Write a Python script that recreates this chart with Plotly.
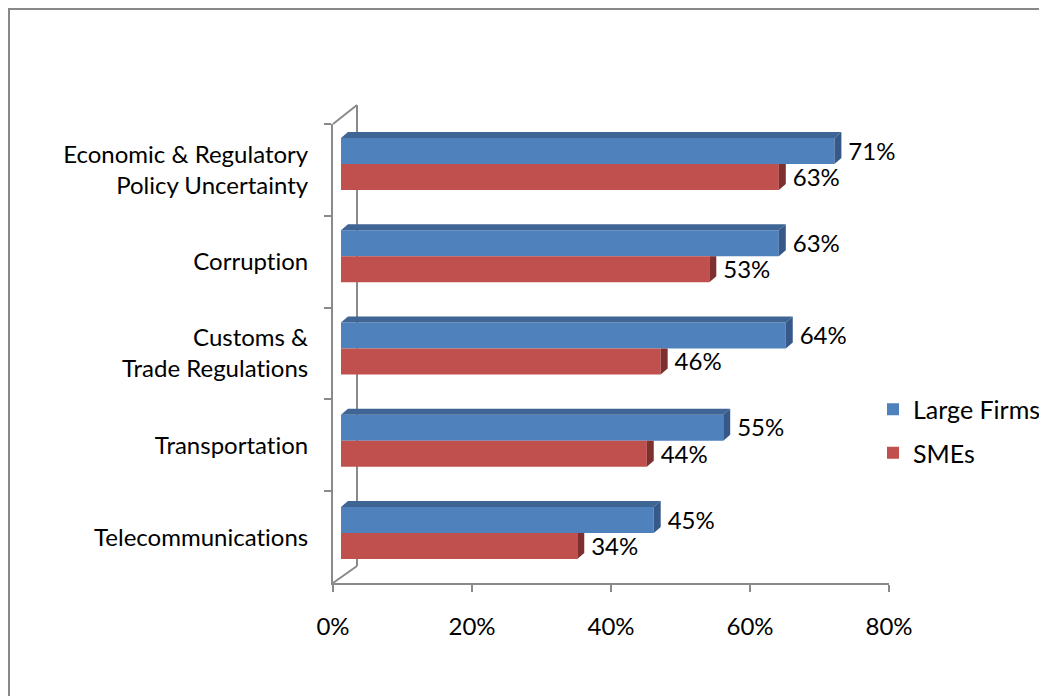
import plotly.graph_objects as go

categories = ["Economic & Regulatory<br>Policy Uncertainty", "Corruption",
              "Customs &<br>Trade Regulations", "Transportation", "Telecommunications"]
large_firms = [71, 63, 64, 55, 45]
smes = [63, 53, 46, 44, 34]
x_ticks = [0, 20, 40, 60, 80]
series_names = ["Large Firms", "SMEs"]

W, H = 1047, 696
OFF = 8  # page body margin
FONT = "Lato"
FS = 24
BLUE, BLUE_TOP, BLUE_SIDE = "#4F81BD", "#3E6594", "#36598A"
RED, RED_SIDE = "#C0504D", "#7E302E"
AX = "#8A8A8A"

def fx(px):
    return (px - OFF) / W

def fy(py):
    return 1 - (py - OFF) / H

BAR_H = 0.282   # bar thickness in category units
DX = 1.0        # 3D depth in % units
DY = 0.065      # 3D depth in category units

idx = list(range(len(categories)))
blue_y = [i - BAR_H / 2 for i in idx]
red_y = [i + BAR_H / 2 for i in idx]

fig = go.Figure()

# front faces
fig.add_trace(go.Bar(orientation="h", x=large_firms, y=blue_y, width=BAR_H,
                     name=series_names[0], marker=dict(color=BLUE, line=dict(width=0)),
                     legendgroup="a", hoverinfo="skip"))
fig.add_trace(go.Bar(orientation="h", x=smes, y=red_y, width=BAR_H,
                     name=series_names[1], marker=dict(color=RED, line=dict(width=0)),
                     legendgroup="b", hoverinfo="skip"))

# 3D faces
def poly(points_list):
    xs, ys = [], []
    for pts in points_list:
        for (a, b) in pts:
            xs.append(a)
            ys.append(b)
        xs.append(pts[0][0]); ys.append(pts[0][1])
        xs.append(None); ys.append(None)
    return xs, ys

top_blue = [[(0, i - BAR_H), (v, i - BAR_H), (v + DX, i - BAR_H - DY), (DX, i - BAR_H - DY)]
            for i, v in zip(idx, large_firms)]
side_blue = [[(v, i - BAR_H), (v + DX, i - BAR_H - DY), (v + DX, i - DY), (v, i)]
             for i, v in zip(idx, large_firms)]
side_red = [[(v, i), (v + DX, i), (v + DX, i + BAR_H - DY), (v, i + BAR_H)]
            for i, v in zip(idx, smes)]

for pts, col in [(top_blue, BLUE_TOP), (side_blue, BLUE_SIDE), (side_red, RED_SIDE)]:
    xs, ys = poly(pts)
    fig.add_trace(go.Scatter(x=xs, y=ys, mode="lines", fill="toself", fillcolor=col,
                             line=dict(width=0, color=col), showlegend=False, hoverinfo="skip"))

# data labels
fig.add_trace(go.Scatter(x=[v + DX + 1.0 for v in large_firms], y=[y + 0.03 for y in blue_y],
                         mode="text", text=[f"{v}%" for v in large_firms],
                         textposition="middle right", textfont=dict(family=FONT, size=FS, color="#000"),
                         showlegend=False, hoverinfo="skip"))
fig.add_trace(go.Scatter(x=[v + DX + 1.0 for v in smes], y=[y + 0.03 for y in red_y],
                         mode="text", text=[f"{v}%" for v in smes],
                         textposition="middle right", textfont=dict(family=FONT, size=FS, color="#000"),
                         showlegend=False, hoverinfo="skip"))

# dummy trace for the visible axes subplot
fig.add_trace(go.Scatter(x=[0] * len(categories), y=categories, xaxis="x2", yaxis="y2",
                         mode="markers", marker=dict(opacity=0), showlegend=False, hoverinfo="skip"))

fig.update_layout(
    width=W, height=H,
    margin=dict(l=0, r=0, t=0, b=0, autoexpand=False),
    paper_bgcolor="white", plot_bgcolor="rgba(0,0,0,0)",
    barmode="overlay",
    font=dict(family=FONT, size=FS, color="#000"),
    xaxis=dict(domain=[fx(341), fx(897)], range=[0, 80], visible=False, fixedrange=True),
    yaxis=dict(domain=[fy(579.1), fy(117.9)], range=[len(categories) - 0.5, -0.5],
               visible=False, fixedrange=True),
    xaxis2=dict(domain=[fx(333), fx(889)], range=[0, 80], anchor="y2",
                tickvals=x_ticks, ticktext=[f"{t}%" for t in x_ticks],
                showline=True, linecolor=AX, linewidth=2, ticks="outside", ticklen=7,
                tickcolor=AX, tickwidth=2, showgrid=False, zeroline=False,
                ticklabelstandoff=14, automargin=False),
    yaxis2=dict(domain=[fy(583), fy(124)], type="category", categoryarray=categories,
                categoryorder="array", range=[len(categories) - 0.5, -0.5], anchor="x2",
                showline=True, linecolor=AX, linewidth=2, ticks="outside", ticklen=7,
                tickcolor=AX, tickwidth=2, tickson="boundaries", showgrid=False,
                zeroline=False, ticklabelstandoff=18, automargin=False),
    legend=dict(x=fx(873), y=fy(431), xanchor="left", yanchor="middle",
                traceorder="grouped", tracegroupgap=8, font=dict(family=FONT, size=25),
                bgcolor="rgba(0,0,0,0)", itemwidth=30),
    shapes=[
        dict(type="rect", xref="paper", yref="paper", x0=fx(9), x1=fx(1080), y0=fy(730), y1=fy(9),
             line=dict(color="#888888", width=2), layer="below"),
        dict(type="line", xref="paper", yref="paper", x0=fx(357), x1=fx(357), y0=fy(566), y1=fy(105),
             line=dict(color=AX, width=2), layer="below"),
        dict(type="line", xref="paper", yref="paper", x0=fx(333), x1=fx(357), y0=fy(124), y1=fy(105),
             line=dict(color=AX, width=2), layer="below"),
        dict(type="line", xref="paper", yref="paper", x0=fx(333), x1=fx(357), y0=fy(583), y1=fy(566),
             line=dict(color=AX, width=2), layer="below"),
    ],
)

no_lig = ("var s=document.createElement('style');"
          "s.innerHTML='.js-plotly-plot text{font-variant-ligatures:none !important;"
          "font-feature-settings:\"liga\" 0, \"clig\" 0 !important;}';"
          "document.head.appendChild(s);")

fig.write_html("out.html", post_script=no_lig)
